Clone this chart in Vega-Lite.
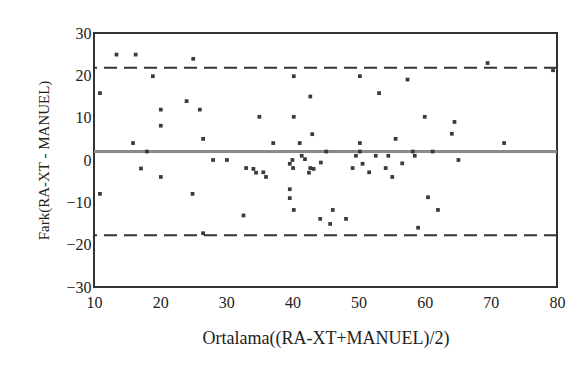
{
  "$schema": "https://vega.github.io/schema/vega-lite/v6.json",
  "width": 463,
  "height": 254,
  "autosize": {"type": "none"},
  "padding": {"left": 94, "top": 33, "right": 30, "bottom": 83},
  "background": "white",
  "config": {
    "view": {"stroke": "#333333", "strokeWidth": 2},
    "font": "Liberation Serif",
    "axis": {"grid": false, "domain": false, "ticks": false, "labelFont": "Liberation Serif", "titleFont": "Liberation Serif", "labelColor": "#222222", "titleColor": "#222222", "titleFontWeight": "normal"}
  },
  "datasets": {
    "pts": [
      {"m": 10.9, "d": 15.8}, {"m": 10.9, "d": -8.0}, {"m": 13.4, "d": 24.9}, {"m": 16.3, "d": 24.9},
      {"m": 15.9, "d": 4.0}, {"m": 18.0, "d": 2.0}, {"m": 17.1, "d": -2.0}, {"m": 18.9, "d": 19.8},
      {"m": 20.1, "d": 11.9}, {"m": 20.1, "d": 8.1}, {"m": 20.1, "d": -4.0}, {"m": 24.0, "d": 13.9},
      {"m": 25.0, "d": 23.9}, {"m": 24.9, "d": -8.0}, {"m": 26.0, "d": 11.9}, {"m": 26.5, "d": 5.0},
      {"m": 26.5, "d": -17.3}, {"m": 28.0, "d": 0.0}, {"m": 30.1, "d": 0.0}, {"m": 32.6, "d": -13.1},
      {"m": 33.0, "d": -1.9}, {"m": 34.1, "d": -2.1}, {"m": 34.5, "d": -3.0}, {"m": 35.0, "d": 10.2},
      {"m": 35.6, "d": -2.9}, {"m": 36.0, "d": -4.0}, {"m": 37.1, "d": 4.0}, {"m": 39.6, "d": -6.9},
      {"m": 39.6, "d": -9.0}, {"m": 40.2, "d": 19.8}, {"m": 40.2, "d": 10.2}, {"m": 40.2, "d": -11.8},
      {"m": 39.6, "d": -0.9}, {"m": 40.0, "d": 0.0}, {"m": 40.1, "d": -1.9}, {"m": 41.1, "d": 4.0},
      {"m": 41.4, "d": 1.0}, {"m": 41.9, "d": 0.2}, {"m": 42.5, "d": -3.0}, {"m": 42.7, "d": -1.9},
      {"m": 43.2, "d": -2.1}, {"m": 42.7, "d": 15.0}, {"m": 43.0, "d": 6.1}, {"m": 44.3, "d": -0.6},
      {"m": 45.1, "d": 2.0}, {"m": 44.2, "d": -13.9}, {"m": 45.7, "d": -15.1}, {"m": 46.1, "d": -11.8},
      {"m": 48.1, "d": -13.9}, {"m": 49.1, "d": -1.9}, {"m": 49.6, "d": 1.0}, {"m": 50.2, "d": 2.0},
      {"m": 50.2, "d": 4.0}, {"m": 50.2, "d": 19.8}, {"m": 50.6, "d": -0.9}, {"m": 51.6, "d": -2.9},
      {"m": 52.6, "d": 1.0}, {"m": 53.1, "d": 15.8}, {"m": 54.1, "d": -1.9}, {"m": 54.5, "d": 1.0},
      {"m": 55.1, "d": -4.0}, {"m": 55.6, "d": 5.0}, {"m": 56.6, "d": -0.8}, {"m": 57.4, "d": 19.0},
      {"m": 58.2, "d": 2.0}, {"m": 58.5, "d": 1.0}, {"m": 59.0, "d": -16.0}, {"m": 60.0, "d": 10.2},
      {"m": 60.5, "d": -8.8}, {"m": 61.2, "d": 2.0}, {"m": 62.0, "d": -11.8}, {"m": 64.1, "d": 6.2},
      {"m": 64.5, "d": 9.0}, {"m": 65.1, "d": 0.0}, {"m": 69.5, "d": 22.9}, {"m": 72.0, "d": 4.0},
      {"m": 79.4, "d": 21.2}
    ],
    "lines": [
      {"kind": "mean", "v": 2.0},
      {"kind": "upper", "v": 21.8},
      {"kind": "lower", "v": -17.8}
    ]
  },
  "layer": [
    {
      "data": {"name": "lines"},
      "transform": [{"filter": "datum.kind == 'mean'"}],
      "mark": {"type": "rule", "color": "#8a8a8a", "strokeWidth": 3},
      "encoding": {"y": {"field": "v", "type": "quantitative"}}
    },
    {
      "data": {"name": "lines"},
      "transform": [{"filter": "datum.kind != 'mean'"}],
      "mark": {"type": "rule", "color": "#333333", "strokeWidth": 2, "strokeDash": [13, 7]},
      "encoding": {"y": {"field": "v", "type": "quantitative"}}
    },
    {
      "data": {"name": "pts"},
      "mark": {"type": "square", "filled": true, "color": "#3a3a3a", "size": 14, "opacity": 1},
      "encoding": {
        "x": {
          "field": "m", "type": "quantitative",
          "scale": {"domain": [10, 80], "nice": false, "zero": false},
          "axis": {"values": [10, 20, 30, 40, 50, 60, 70, 80], "title": "Ortalama((RA-XT+MANUEL)/2)", "labelFontSize": 16, "titleFontSize": 18, "labelPadding": 7, "titlePadding": 19, "labelFlush": false}
        },
        "y": {
          "field": "d", "type": "quantitative",
          "scale": {"domain": [-30, 30], "nice": false, "zero": false},
          "axis": {"values": [-30, -20, -10, 0, 10, 20, 30], "title": "Fark(RA-XT - MANUEL)", "labelFontSize": 16, "titleFontSize": 15, "labelPadding": 3, "titlePadding": 14, "labelFlush": false}
        }
      }
    }
  ]
}
